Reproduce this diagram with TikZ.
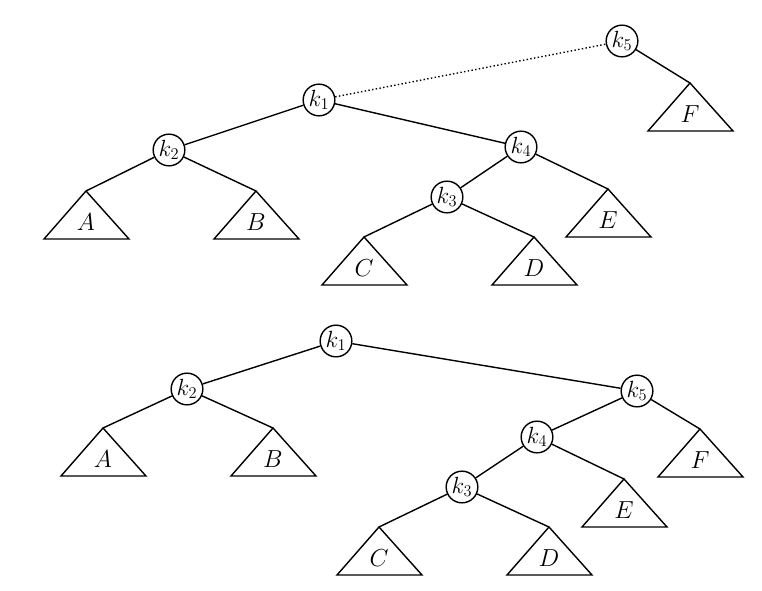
\documentclass[tikz,border=0pt]{standalone}
\usepackage{fix-cm}
\usetikzlibrary{positioning}

\tikzset{
    knode/.style={draw, circle, line width=1.2pt, minimum size=0.95cm, inner sep=0pt,
        font=\fontsize{20}{22}\selectfont},
    link/.style={line width=1.2pt},
    lbl/.style={font=\fontsize{21}{23}\selectfont, inner sep=0pt}
}

% subtree: apex name, apex position, label
\newcommand{\subtree}[3]{%
    \coordinate (#1) at (#2);
    \draw[link, line join=miter] (#1) -- ++(-42,48) -- ++(85,0) -- cycle;
    \path (#1) ++(0,31) node[lbl] (#1-l) {$#3$};
}

\begin{document}
\begin{tikzpicture}[x=0.03cm, y=-0.03cm]
    \useasboundingbox (0,0) rectangle (762,590);

    % Before rotation
    \node[knode] (a5) at (622,41) {$k_5$};
    \node[knode] (a1) at (319,100) {$k_1$};
    \node[knode] (a2) at (169,150) {$k_2$};
    \node[knode] (a4) at (521,147) {$k_4$};
    \node[knode] (a3) at (447,197) {$k_3$};

    \subtree{aF}{690,83}{F}
    \subtree{aA}{86,191}{A}
    \subtree{aB}{256,191}{B}
    \subtree{aE}{608,189}{E}
    \subtree{aC}{364,237}{C}
    \subtree{aD}{534,237}{D}

    \draw[link, dotted] (a1) -- (a5);
    \draw[link] (a5) -- (aF);
    \draw[link] (a1) -- (a2);
    \draw[link] (a1) -- (a4);
    \draw[link] (a2) -- (aA);
    \draw[link] (a2) -- (aB);
    \draw[link] (a4) -- (a3);
    \draw[link] (a4) -- (aE);
    \draw[link] (a3) -- (aC);
    \draw[link] (a3) -- (aD);

    % After rotation
    \node[knode] (b1) at (336,341) {$k_1$};
    \node[knode] (b2) at (187,389) {$k_2$};
    \node[knode] (b5) at (637,391) {$k_5$};
    \node[knode] (b4) at (537,437) {$k_4$};
    \node[knode] (b3) at (462,487) {$k_3$};

    \subtree{bA}{103,428}{A}
    \subtree{bB}{273,428}{B}
    \subtree{bF}{700,429}{F}
    \subtree{bE}{624,479}{E}
    \subtree{bC}{379,527}{C}
    \subtree{bD}{549,527}{D}

    \draw[link] (b1) -- (b2);
    \draw[link] (b1) -- (b5);
    \draw[link] (b2) -- (bA);
    \draw[link] (b2) -- (bB);
    \draw[link] (b5) -- (b4);
    \draw[link] (b5) -- (bF);
    \draw[link] (b4) -- (b3);
    \draw[link] (b4) -- (bE);
    \draw[link] (b3) -- (bC);
    \draw[link] (b3) -- (bD);
\end{tikzpicture}
\end{document}
